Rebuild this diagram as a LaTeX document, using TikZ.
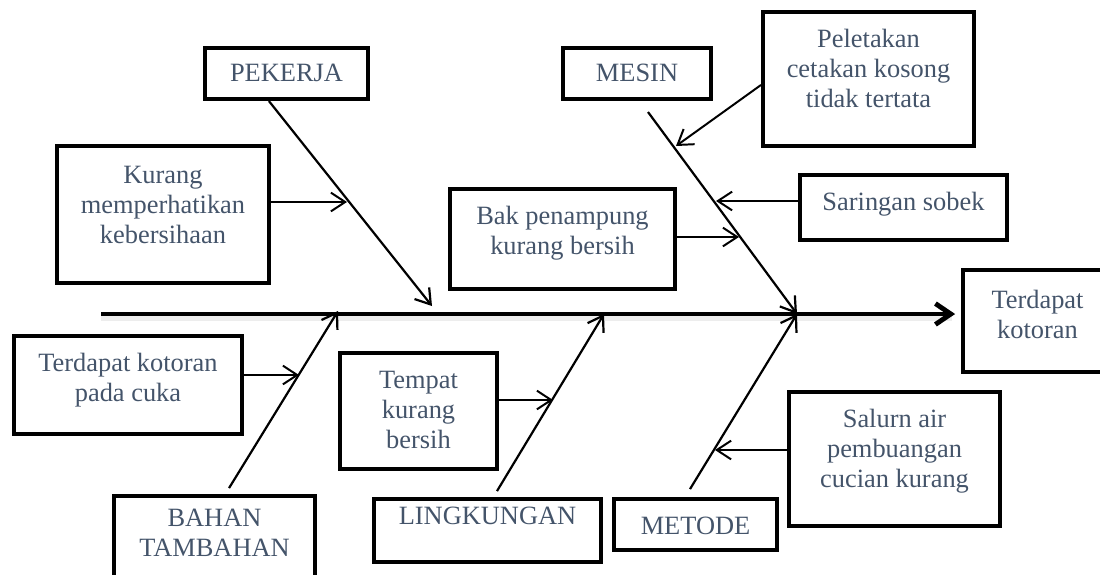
\documentclass[tikz,border=0pt]{standalone}
\usepackage{fontspec}
\setmainfont{Liberation Serif}
\usetikzlibrary{arrows.meta}
\definecolor{txtblue}{RGB}{68,84,106}
% text set at the top of a box: [top pad]{width}{height}{text}
\newcommand{\boxtxt}[4][8pt]{\parbox[c][#3][t]{#2}{\centering\vspace*{#1}#4}}

\begin{document}
\begin{tikzpicture}[x=0.4545pt,y=-0.4545pt,font=\fontsize{12}{13.6}\selectfont]
        % Define block styles
        \tikzstyle{block} = [rectangle, draw, line width=1.8pt, inner sep=0pt, text=txtblue]
        \tikzstyle{bone} = [draw, line width=1pt, -{Straight Barb[length=6.5pt,width=8.5pt]}]
        \tikzstyle{sub} = [draw, line width=0.9pt, -{Straight Barb[length=6.5pt,width=8.5pt]}]
        \tikzstyle{spine} = [draw, line width=2.2pt, -{Straight Barb[length=7pt,width=9.5pt]}]

        \useasboundingbox (0,0) rectangle (1100,574);
        \clip (0,0) rectangle (1100,574);

        % Nodes
        \node [block] (pekerja) at (286.5,73.5) {\boxtxt[7.5pt]{74.1pt}{23.2pt}{PEKERJA}};
        \node [block] (mesin) at (637,73.5) {\boxtxt[7.5pt]{67.3pt}{23.2pt}{MESIN}};
        \node [block] (kurang) at (163,214.5) {\boxtxt[9.3pt]{96.4pt}{62.3pt}{Kurang\\ memperhatikan\\ kebersihaan}};
        \node [block] (peletakan) at (868.5,79) {\boxtxt{95.9pt}{60.9pt}{Peletakan\\ cetakan kosong\\ tidak tertata}};
        \node [block] (saringan) at (903.5,207.5) {\boxtxt{94.1pt}{29.5pt}{Saringan sobek}};
        \node [block] (bak) at (562.5,239) {\boxtxt{102.3pt}{45.5pt}{Bak penampung\\ kurang bersih}};
        \node [block] (effect) at (1037.5,321) {\boxtxt[9pt]{67.7pt}{46.4pt}{Terdapat\\ kotoran}};
        \node [block] (cuka) at (128,385) {\boxtxt{103.6pt}{44.5pt}{Terdapat kotoran\\ pada cuka}};
        \node [block] (tempat) at (418.5,411) {\boxtxt[8.4pt]{71.4pt}{52.7pt}{Tempat\\ kurang\\ bersih}};
        \node [block] (lingkungan) at (487.5,530.5) {\boxtxt[3.5pt]{103.2pt}{28.6pt}{LINGKUNGAN}};
        \node [block] (metode) at (695.5,524.5) {\boxtxt{74.1pt}{23.2pt}{METODE}};
        \node [block] (bahan) at (214.5,542) {\boxtxt[5.9pt]{91.4pt}{41.8pt}{BAHAN\\ TAMBAHAN}};
        \node [block] (salurn) at (894.5,459) {\boxtxt[7.7pt]{95.9pt}{60.9pt}{Salurn air\\ pembuangan\\ cucian kurang}};

        % Points on the spine and on the bones
        \coordinate (tail) at (101,314);
        \coordinate (pk) at (432,306);
        \coordinate (bh) at (338,311);
        \coordinate (lk) at (604,314);
        \coordinate (joint) at (797,314);
        \coordinate (k1) at (347,202);
        \coordinate (m1) at (676,146);
        \coordinate (m2) at (716,201);
        \coordinate (m3) at (739,237);
        \coordinate (h1) at (299,375);
        \coordinate (l1) at (553,400);
        \coordinate (t1) at (715,450);

        % Spine
        \draw [line width=3pt, black!7] ([yshift=-1.5pt]tail) -- ([yshift=-1.5pt,xshift=-4pt]effect.west |- tail);
        \path [spine, shorten >=2.7pt] (tail) -- (effect.west |- tail);

        % Bones
        \path [bone] ([xshift=-8pt]pekerja.south) -- (pk);
        \path [bone] ([xshift=5pt,yshift=-5pt]mesin.south) -- (joint);
        \path [bone] ([xshift=6.6pt,yshift=2.7pt]bahan.north) -- (bh);
        \path [bone] ([xshift=4.3pt,yshift=2.7pt]lingkungan.north) -- (lk);
        \path [bone] ([xshift=-2.5pt,yshift=3.6pt]metode.north) -- (joint);

        % Arrows
        \path [sub] (kurang.east |- k1) -- (k1);
        \path [sub] ([yshift=-2.7pt]peletakan.west) -- (m1);
        \path [sub] (saringan.west |- m2) -- (m2);
        \path [sub] (bak.east |- m3) -- (m3);
        \path [sub] (cuka.east |- h1) -- (h1);
        \path [sub] (tempat.east |- l1) -- (l1);
        \path [sub] (salurn.west |- t1) -- (t1);

    \end{tikzpicture}
\end{document}
